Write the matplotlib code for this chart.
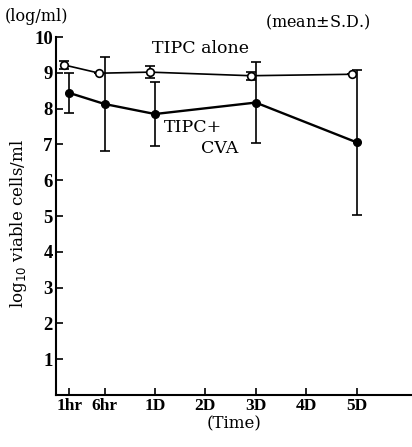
"""
Viable cell counts over time: TIPC alone vs TIPC + CVA
"""
import matplotlib.pyplot as plt

plt.rcParams['font.family'] = ['Liberation Serif', 'DejaVu Serif']

# Time axis (positions in days; 1hr and 6hr squeezed in before 1D)
tick_pos = [-0.7, 0.0, 1, 2, 3, 4, 5]
tick_labels = ["1hr", "6hr", "1D", "2D", "3D", "4D", "5D"]

# sampled time points
sample_pos = [-0.7, 0.0, 1, 3, 5]

# log10 viable cells/ml, mean and S.D.
alone_mean = [9.22, 8.99, 9.02, 8.92, 8.96]
alone_sd = [0.10, 0.0, 0.17, 0.11, 0.0]
cva_mean = [8.44, 8.13, 7.85, 8.17, 7.06]
cva_sd = [0.55, 1.30, 0.90, 1.13, 2.02]


def main():
    fig = plt.figure(figsize=(4.12, 4.47), dpi=100)
    ax = fig.add_axes([0.135, 0.1163, 0.865, 0.8008])

    dodge = -0.1
    x_alone = [p + dodge for p in sample_pos]

    ax.errorbar(x_alone, alone_mean, yerr=alone_sd, color="black", lw=1.2,
                elinewidth=1.2, capsize=3.5, capthick=1.2, marker="o",
                ms=5.5, mfc="white", mec="black", mew=1.2, zorder=3)
    ax.errorbar(sample_pos, cva_mean, yerr=cva_sd, color="black", lw=1.7,
                elinewidth=1.2, capsize=3.5, capthick=1.2, marker="o",
                ms=5.5, mfc="black", mec="black", zorder=4)

    ax.set_xlim(-0.97, 6.1)
    ax.set_ylim(0, 10)
    ax.set_xticks(tick_pos)
    ax.set_xticklabels(tick_labels, fontsize=12.5, fontweight="bold")
    ax.set_yticks(range(1, 11))
    ax.set_yticklabels([str(v) for v in range(1, 11)], fontsize=13.5,
                       fontweight="bold")
    ax.tick_params(direction="in", length=5, width=1.2, pad=2)

    for side in ("top", "right"):
        ax.spines[side].set_visible(False)
    for side in ("left", "bottom"):
        ax.spines[side].set_linewidth(1.5)

    serif = ["DejaVu Serif"]
    ax.set_xlabel("(Time)", fontsize=12, family=serif, labelpad=1)
    ax.set_ylabel(r"log$_{10}$ viable cells/ml", fontsize=12, family=serif)
    ax.yaxis.set_label_coords(-0.075, 0.48)

    fig.text(0.012, 0.962, "(log/ml)", fontsize=11.5, family=serif,
             va="center", ha="left")
    fig.text(0.643, 0.95, r"(mean$\pm$S.D.)", fontsize=11.5, family=serif,
             va="center", ha="left")
    ax.text(1.9, 9.69, "TIPC alone", fontsize=12.5, family=serif,
            ha="center", va="center")
    ax.text(1.75, 7.46, "TIPC+", fontsize=12.5, family=serif,
            ha="center", va="center")
    ax.text(2.29, 6.9, "CVA", fontsize=12.5, family=serif,
            ha="center", va="center")

    fig.savefig("out.png", dpi=100)


if __name__ == '__main__':
    main()
